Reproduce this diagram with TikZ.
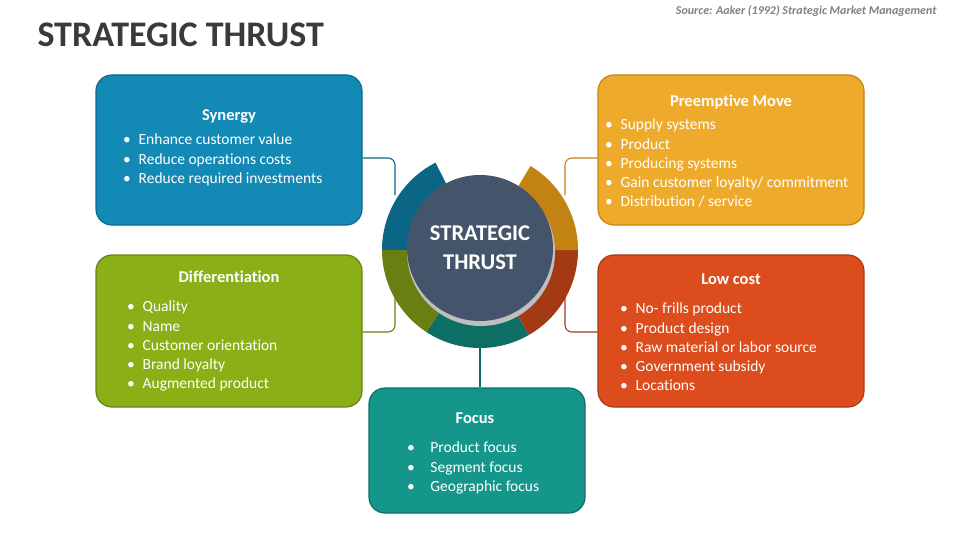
\documentclass[tikz,border=0pt]{standalone}
\usepackage{fontspec}
\setmainfont{Carlito}[Ligatures=NoCommon]
\usetikzlibrary{positioning}
\definecolor{synfill}{HTML}{1389B6}
\definecolor{synline}{HTML}{0E6A8C}
\definecolor{prefill}{HTML}{EEAB2B}
\definecolor{preline}{HTML}{C3850F}
\definecolor{diffill}{HTML}{8BAF17}
\definecolor{difline}{HTML}{6A8212}
\definecolor{lowfill}{HTML}{DC4C1C}
\definecolor{lowline}{HTML}{A63B14}
\definecolor{focfill}{HTML}{14978A}
\definecolor{focline}{HTML}{0E6F64}
\definecolor{ringblue}{HTML}{0B6685}
\definecolor{ringorange}{HTML}{C38312}
\definecolor{ringred}{HTML}{A33A14}
\definecolor{ringteal}{HTML}{0D6E63}
\definecolor{ringgreen}{HTML}{6A7F12}
\definecolor{hubcolor}{HTML}{44546A}
\definecolor{titlecolor}{HTML}{3A3A3A}
\begin{document}
\begin{tikzpicture}[x=1pt,y=-1pt]
\tikzset{
  card/.style={draw, line width=1.2pt, rounded corners=16pt, minimum width=266pt},
  head/.style={text=white, font=\fontsize{16.5}{19}\selectfont\bfseries},
  items/.style={text=white, align=left, inner sep=0pt, anchor=north west,
    font=\fontsize{15.5}{19.2}\selectfont},
  link/.style={line width=1.1pt, rounded corners=7pt},
}
\useasboundingbox (0,0) rectangle (960,540);

\node[anchor=west, text=titlecolor, font=\fontsize{36}{40}\selectfont\bfseries] (title) at (34,35) {STRATEGIC THRUST};
\node[anchor=east, text=gray, font=\fontsize{12}{13}\selectfont\bfseries\itshape] (source) at (940,11) {Source: Aaker (1992) Strategic Market Management};

% boxes
\node[card, fill=synfill, draw=synline, minimum height=150pt] (syn) at (229,150) {};
\node[card, fill=prefill, draw=preline, minimum height=150pt] (pre) at (731,150) {};
\node[card, fill=diffill, draw=difline, minimum height=152pt] (dif) at (229,331) {};
\node[card, fill=lowfill, draw=lowline, minimum height=152pt] (low) at (731,331) {};
\node[card, fill=focfill, draw=focline, minimum height=125pt, minimum width=216pt] (foc) at (477,450.5) {};

% headings
\node[head] (synhead) at (229,116) {Synergy};
\node[head] (prehead) at (731,102) {Preemptive Move};
\node[head] (difhead) at (229,277) {Differentiation};
\node[head] (lowhead) at (731,279) {Low cost};
\node[head] (fochead) at (475,418) {Focus};

% bullet lists
\node[items] (synlist) at (123,134) {•\enspace Enhance customer value\\ •\enspace Reduce operations costs\\ •\enspace Reduce required investments};
\node[items] (prelist) at (605,119) {•\enspace Supply systems\\ •\enspace Product\\ •\enspace Producing systems\\ •\enspace Gain customer loyalty/ commitment\\ •\enspace Distribution / service};
\node[items] (diflist) at (127,301) {•\enspace Quality\\ •\enspace Name\\ •\enspace Customer orientation\\ •\enspace Brand loyalty\\ •\enspace Augmented product};
\node[items] (lowlist) at (620,303) {•\enspace No- frills product\\ •\enspace Product design\\ •\enspace Raw material or labor source\\ •\enspace Government subsidy\\ •\enspace Locations};
\node[items] (foclist) at (407,442) {•\quad Product focus\\ •\quad Segment focus\\ •\quad Geographic focus};

% ring
\begin{scope}[shift={(480,250)}, yscale=-1]
  \fill[ringblue]   (117:98) arc[start angle=117, end angle=180, radius=98] -- (180:70) arc[start angle=180, end angle=117, radius=70] -- cycle;
  \fill[ringgreen]  (180:98) arc[start angle=180, end angle=237, radius=98] -- (237:70) arc[start angle=237, end angle=180, radius=70] -- cycle;
  \fill[ringteal]   (237:98) arc[start angle=237, end angle=300, radius=98] -- (300:70) arc[start angle=300, end angle=237, radius=70] -- cycle;
  \fill[ringred]    (300:98) arc[start angle=300, end angle=360, radius=98] -- (0:70) arc[start angle=360, end angle=300, radius=70] -- cycle;
  \fill[ringorange] (0:98) arc[start angle=0, end angle=59, radius=98] -- (59:70) arc[start angle=59, end angle=0, radius=70] -- cycle;
\end{scope}
\fill[black!25] (481,252) circle[radius=74];
\node[circle, fill=hubcolor, minimum size=146pt, text=white, align=center,
  font=\fontsize{22.5}{29}\selectfont\bfseries] (hub) at (480,248) {STRATEGIC\\ THRUST};

% connectors
\coordinate (tl) at (395,195);
\coordinate (bl) at (395,290);
\coordinate (tr) at (565,195);
\coordinate (br) at (565,290);
\coordinate (bot) at (480,347);
\draw[link, ringblue]   (syn.east |- 0,158) -| (tl);
\draw[link, ringgreen]  (dif.east |- 0,332) -| (bl);
\draw[link, ringorange] (pre.west |- 0,158) -| (tr);
\draw[link, ringred]    (low.west |- 0,332) -| (br);
\draw[line width=1.1pt, ringteal] (bot) -- (foc.north -| bot);
\end{tikzpicture}
\end{document}
